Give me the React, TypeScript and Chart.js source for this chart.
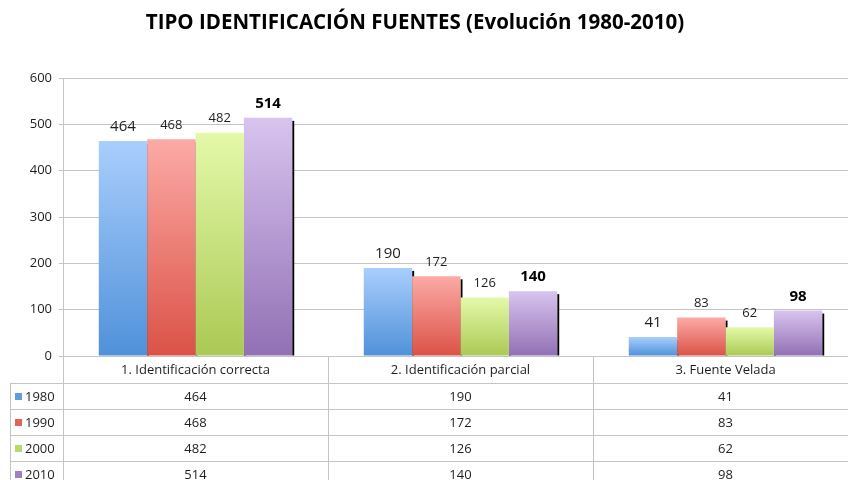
import { useEffect, useRef } from "react";
import { Chart, registerables } from "chart.js";

Chart.register(...registerables);

const TITLE = "TIPO IDENTIFICACIÓN FUENTES (Evolución 1980-2010)";
const categories = ["1. Identificación correcta", "2. Identificación parcial", "3. Fuente Velada"];
const years = ["1980", "1990", "2000", "2010"];
const values1980 = [464, 190, 41];
const values1990 = [468, 172, 83];
const values2000 = [482, 126, 62];
const values2010 = [514, 140, 98];
const seriesValues = [values1980, values1990, values2000, values2010];
const yMin = 0;
const yMax = 600;
const yStep = 100;

const gradTop = ["#a9cefd", "#fcaaa6", "#e4f9a9", "#d8c4ef"];
const gradBottom = ["#5091d9", "#db5246", "#abc954", "#9170b4"];
const legendSwatch = ["#5d9de2", "#e2635b", "#b9d96c", "#a07fc2"];
const labelFonts = [
  { size: 15, weight: "normal" },
  { size: 13, weight: "normal" },
  { size: 13, weight: "normal" },
  { size: 15, weight: "bold" },
];

const FONT = "'Open Sans', sans-serif";
const GRID = "#c4c4c4";
const TEXT = "#1e1e1e";

const makeGradient = (i: number) => (ctx: any) => {
  const chart = ctx.chart;
  if (!chart.chartArea || ctx.type !== "data" || !chart.scales.y) return gradBottom[i];
  const y = chart.scales.y;
  const yTop = y.getPixelForValue(ctx.raw);
  const yBot = y.getPixelForValue(0);
  const g = chart.ctx.createLinearGradient(0, yTop, 0, yBot);
  g.addColorStop(0, gradTop[i]);
  g.addColorStop(1, gradBottom[i]);
  return g;
};

const shadowPlugin = {
  id: "barShadow",
  beforeDatasetsDraw(chart: any) {
    const ctx = chart.ctx;
    ctx.save();
    ctx.fillStyle = "#000";
    chart.data.datasets.forEach((_: any, di: number) => {
      const meta = chart.getDatasetMeta(di);
      meta.data.forEach((el: any) => {
        const { x, y, width, base } = el.getProps(["x", "y", "width", "base"], true);
        ctx.fillRect(x + width / 2, y + 3, 2, base - y - 3);
      });
    });
    ctx.restore();
  },
};

const labelPlugin = {
  id: "barLabels",
  afterDatasetsDraw(chart: any) {
    const ctx = chart.ctx;
    ctx.save();
    ctx.textAlign = "center";
    ctx.textBaseline = "middle";
    chart.data.datasets.forEach((ds: any, di: number) => {
      const meta = chart.getDatasetMeta(di);
      const f = labelFonts[di];
      ctx.font = `${f.weight} ${f.size}px ${FONT}`;
      ctx.fillStyle = di === 3 ? "#000" : TEXT;
      meta.data.forEach((el: any, i: number) => {
        const { x, y } = el.getProps(["x", "y"], true);
        ctx.fillText(String(ds.data[i]), x, y - 14);
      });
    });
    ctx.restore();
  },
};

const tablePlugin = {
  id: "dataTable",
  afterDraw(chart: any) {
    const ctx = chart.ctx;
    const area = chart.chartArea;
    const xs = chart.scales.x;
    const n = categories.length;
    const colW = (area.right - area.left) / n;
    const top = area.bottom;
    const headerH = 27;
    const rowH = 26;
    const legendLeft = 10;
    const bottom = top + headerH + rowH * years.length;
    ctx.save();
    ctx.strokeStyle = GRID;
    ctx.lineWidth = 1;
    for (let r = 0; r <= years.length; r++) {
      const yy = Math.round(top + headerH + rowH * r) + 0.5;
      ctx.beginPath();
      ctx.moveTo(legendLeft, yy);
      ctx.lineTo(chart.width, yy);
      ctx.stroke();
    }
    const vline = (x: number, y0: number) => {
      const xx = Math.round(x) + 0.5;
      ctx.beginPath();
      ctx.moveTo(xx, y0);
      ctx.lineTo(xx, bottom);
      ctx.stroke();
    };
    vline(legendLeft, top + headerH);
    for (let c = 0; c <= n; c++) vline(area.left + colW * c, top);

    ctx.fillStyle = TEXT;
    ctx.textAlign = "center";
    ctx.textBaseline = "middle";
    ctx.font = `13px ${FONT}`;
    categories.forEach((cat, c) => {
      const cx = xs.getPixelForValue(c);
      ctx.fillText(cat, cx, top + headerH / 2 + 1);
    });
    seriesValues.forEach((vals, r) => {
      const cy = top + headerH + rowH * r + rowH / 2 + 1;
      vals.forEach((v, c) => {
        ctx.fillText(String(v), xs.getPixelForValue(c), cy);
      });
      ctx.fillStyle = legendSwatch[r];
      ctx.fillRect(15, cy - 4, 7, 7);
      ctx.fillStyle = TEXT;
      ctx.textAlign = "left";
      ctx.fillText(years[r], 25, cy);
      ctx.textAlign = "center";
    });
    ctx.restore();
  },
};

const titlePlugin = {
  id: "customTitle",
  afterDraw(chart: any) {
    const ctx = chart.ctx;
    ctx.save();
    ctx.font = `bold 20.5px ${FONT}`;
    ctx.fillStyle = "#000";
    ctx.textAlign = "center";
    ctx.textBaseline = "middle";
    ctx.fillText(TITLE, 415, 23);
    ctx.restore();
  },
};

export default function App() {
  const ref = useRef<HTMLCanvasElement | null>(null);
  useEffect(() => {
    if (!ref.current) return;
    const chart = new Chart(ref.current, {
      type: "bar",
      data: {
        labels: categories,
        datasets: years.map((yr, i) => ({
          label: yr,
          data: seriesValues[i],
          backgroundColor: makeGradient(i),
          borderWidth: 0,
          categoryPercentage: 0.73,
          barPercentage: 1,
        })),
      },
      options: {
        responsive: false,
        animation: false,
        devicePixelRatio: 1,
        layout: { padding: { top: 78, bottom: 124, left: 0, right: 4 } },
        plugins: {
          legend: { display: false },
          tooltip: { enabled: false },
          title: { display: false },
        },
        scales: {
          x: { display: false },
          y: {
            min: yMin,
            max: yMax,
            ticks: { stepSize: yStep, color: TEXT, font: { family: FONT, size: 13 }, padding: 7 },
            grid: { color: GRID, tickLength: 4 },
            border: { color: GRID },
            afterFit: (s: any) => {
              s.width = 63;
            },
          },
        },
      },
      plugins: [shadowPlugin, labelPlugin, tablePlugin, titlePlugin],
    });
    return () => chart.destroy();
  }, []);
  return (
    <div style={{ position: "absolute", left: 0, top: 0, width: 848, height: 480, overflow: "hidden", background: "#fff" }}>
      <canvas ref={ref} width={862} height={480} style={{ width: 862, height: 480, display: "block" }} />
    </div>
  );
}
